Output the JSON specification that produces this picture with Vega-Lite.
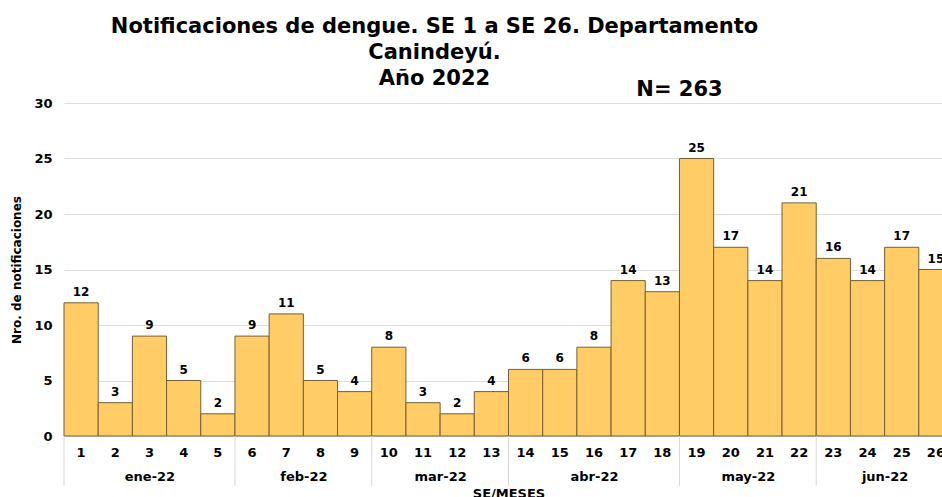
{
  "$schema": "https://vega.github.io/schema/vega-lite/v6.json",
  "autosize": {"type": "none"},
  "padding": {"left": 64, "top": 103, "right": 0, "bottom": 61},
  "width": 889,
  "height": 333,
  "background": "white",
  "config": {"font": "DejaVu Sans", "view": {"stroke": null}, "text": {"font": "DejaVu Sans"}},
  "title": {
    "text": ["Notificaciones de dengue. SE 1 a SE 26. Departamento", "Canindeyú.", "Año 2022"],
    "fontSize": 21, "fontWeight": "bold", "font": "DejaVu Sans", "lineHeight": 26,
    "anchor": "middle", "frame": "group", "dx": -74, "offset": -10, "color": "black"
  },
  "datasets": {
    "semanas": [
      {"semana": 1, "mes": "ene-22", "casos": 12},
      {"semana": 2, "mes": "ene-22", "casos": 3},
      {"semana": 3, "mes": "ene-22", "casos": 9},
      {"semana": 4, "mes": "ene-22", "casos": 5},
      {"semana": 5, "mes": "ene-22", "casos": 2},
      {"semana": 6, "mes": "feb-22", "casos": 9},
      {"semana": 7, "mes": "feb-22", "casos": 11},
      {"semana": 8, "mes": "feb-22", "casos": 5},
      {"semana": 9, "mes": "feb-22", "casos": 4},
      {"semana": 10, "mes": "mar-22", "casos": 8},
      {"semana": 11, "mes": "mar-22", "casos": 3},
      {"semana": 12, "mes": "mar-22", "casos": 2},
      {"semana": 13, "mes": "mar-22", "casos": 4},
      {"semana": 14, "mes": "abr-22", "casos": 6},
      {"semana": 15, "mes": "abr-22", "casos": 6},
      {"semana": 16, "mes": "abr-22", "casos": 8},
      {"semana": 17, "mes": "abr-22", "casos": 14},
      {"semana": 18, "mes": "abr-22", "casos": 13},
      {"semana": 19, "mes": "may-22", "casos": 25},
      {"semana": 20, "mes": "may-22", "casos": 17},
      {"semana": 21, "mes": "may-22", "casos": 14},
      {"semana": 22, "mes": "may-22", "casos": 21},
      {"semana": 23, "mes": "jun-22", "casos": 16},
      {"semana": 24, "mes": "jun-22", "casos": 14},
      {"semana": 25, "mes": "jun-22", "casos": 17},
      {"semana": 26, "mes": "jun-22", "casos": 15}
    ],
    "limites": [
      {"limite": 0}, {"limite": 5}, {"limite": 9}, {"limite": 13},
      {"limite": 18}, {"limite": 22}, {"limite": 26}
    ],
    "total": [{"etiqueta": "N= 263"}]
  },
  "layer": [
    {
      "layer": [
        {
          "data": {"name": "semanas"},
          "mark": {"type": "bar", "fill": "#FFCC66", "stroke": "#756034", "strokeWidth": 1},
          "encoding": {
            "x": {
              "field": "semana", "type": "ordinal", "sort": "ascending",
              "scale": {"paddingInner": 0, "paddingOuter": 0},
              "axis": {
                "labelAngle": 0, "ticks": false, "domain": false, "title": null,
                "labelFontSize": 13, "labelFontWeight": "bold", "labelColor": "black",
                "labelPadding": 10
              }
            },
            "y": {
              "field": "casos", "type": "quantitative",
              "scale": {"domain": [0, 30], "nice": false},
              "axis": {
                "values": [0, 5, 10, 15, 20, 25, 30],
                "grid": true, "gridColor": "#dedede", "domain": false, "ticks": false,
                "labelFontSize": 13, "labelFontWeight": "bold", "labelColor": "black",
                "labelPadding": 12,
                "title": "Nro. de notificaciones", "titleFontSize": 12, "titleFontWeight": "bold",
                "titleColor": "black", "titlePadding": 10
              }
            }
          }
        },
        {
          "data": {"name": "semanas"},
          "mark": {"type": "text", "baseline": "bottom", "dy": -4, "fontSize": 12, "fontWeight": "bold", "color": "black"},
          "encoding": {
            "x": {"field": "semana", "type": "ordinal"},
            "y": {"field": "casos", "type": "quantitative"},
            "text": {"field": "casos", "type": "quantitative"}
          }
        },
        {
          "data": {"name": "total"},
          "mark": {"type": "text", "baseline": "middle", "align": "center", "fontSize": 21, "fontWeight": "bold", "color": "black"},
          "encoding": {
            "x": {"datum": 19, "type": "ordinal", "bandPosition": 0},
            "y": {"datum": 31.2, "type": "quantitative"},
            "text": {"field": "etiqueta", "type": "nominal"}
          }
        }
      ]
    },
    {
      "data": {"name": "limites"},
      "mark": {"type": "rule", "color": "#d9d9d9", "strokeWidth": 1},
      "encoding": {
        "x": {
          "field": "limite", "type": "quantitative",
          "scale": {"domain": [0, 26], "nice": false, "zero": false},
          "axis": {
            "orient": "bottom", "offset": 28,
            "values": [2.5, 7, 11, 15.5, 20, 24],
            "labelExpr": "datum.value == 2.5 ? 'ene-22' : datum.value == 7 ? 'feb-22' : datum.value == 11 ? 'mar-22' : datum.value == 15.5 ? 'abr-22' : datum.value == 20 ? 'may-22' : 'jun-22'",
            "ticks": false, "domain": false, "grid": false,
            "labelFontSize": 13, "labelFontWeight": "bold", "labelColor": "black",
            "labelPadding": 6,
            "title": "SE/MESES", "titleFontSize": 13, "titleFontWeight": "bold",
            "titleColor": "black", "titlePadding": 4
          }
        },
        "y": {"datum": 0, "type": "quantitative"},
        "y2": {"datum": -4.5}
      }
    }
  ],
  "resolve": {"scale": {"x": "independent"}, "axis": {"x": "independent"}}
}
